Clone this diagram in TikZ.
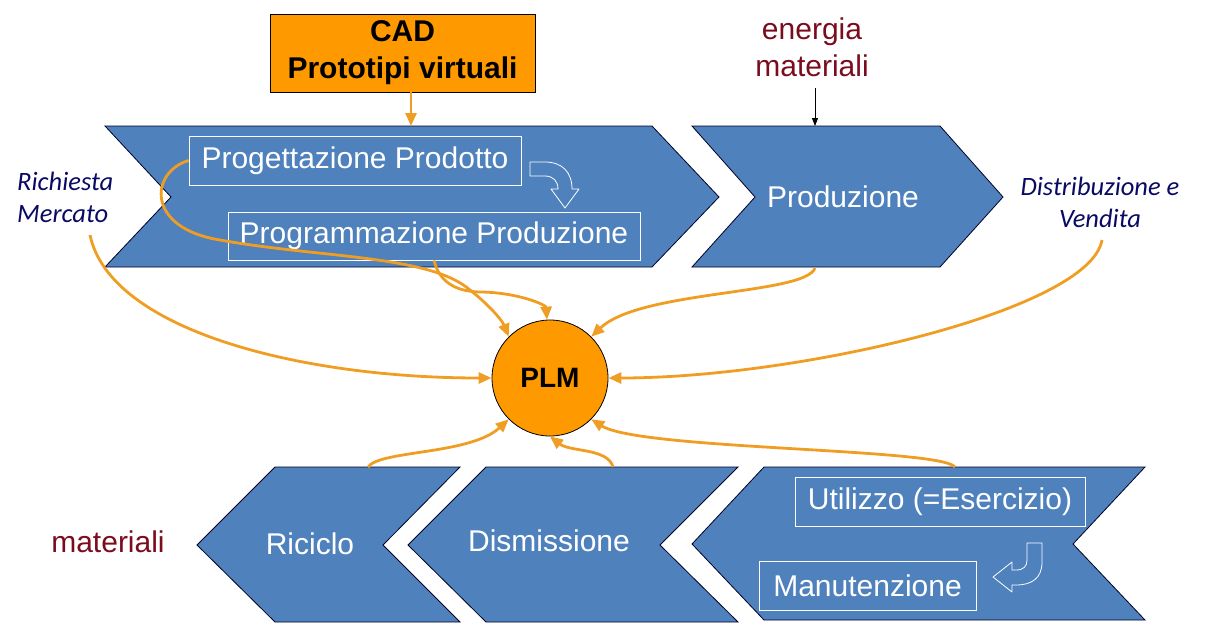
\documentclass[tikz,border=0pt]{standalone}
\usepackage{fontspec}
\setmainfont{Liberation Sans}
\newfontfamily\carlitofont{Carlito}
\usetikzlibrary{arrows.meta}
\definecolor{chev}{RGB}{79,129,189}
\definecolor{plmorange}{RGB}{255,153,0}
\definecolor{connc}{RGB}{240,158,35}
\definecolor{darkredc}{RGB}{122,12,30}
\definecolor{navyc}{RGB}{10,10,100}
\begin{document}
\begin{tikzpicture}[x=1pt,y=-1pt,
  chevron/.style={fill=chev,draw=black!85!blue,line width=0.8pt},
  wtext/.style={text=white,font=\fontsize{30}{34}\selectfont,inner sep=0pt},
  wbox/.style={draw=white,line width=0.8pt,text=white,font=\fontsize{30}{34}\selectfont,inner sep=0pt},
  connector/.style={draw=connc,line width=2.8pt,-{Triangle[length=13pt,width=11pt]}},
  hollow/.style={draw=white,line width=0.8pt,line join=round},
  redlbl/.style={text=darkredc,font=\fontsize{30}{37}\selectfont,align=center,inner sep=0pt},
  navylbl/.style={text=navyc,font=\carlitofont\itshape\fontsize{26.5}{32}\selectfont,align=center,inner sep=0pt}
]
\useasboundingbox (0,0) rectangle (1206,626);
% chevrons
\draw[chevron] (105,126) -- (652,126) -- (719,197) -- (652,267) -- (105,267) -- (171,197) -- cycle;
\draw[chevron] (692,126) -- (940,126) -- (1003,197) -- (940,267) -- (692,267) -- (755,197) -- cycle;
\draw[chevron] (197,545) -- (275,467) -- (460,467) -- (383,545) -- (460,622) -- (275,622) -- cycle;
\draw[chevron] (408,545) -- (486,467) -- (738,467) -- (660,545) -- (738,622) -- (486,622) -- cycle;
\draw[chevron] (692,544) -- (764,467) -- (1145,467) -- (1073,544) -- (1145,620) -- (764,620) -- cycle;
% coordinates on chevrons
\coordinate (ch1t) at (411,126);
\coordinate (prodb) at (815,268);
\coordinate (ch2t) at (815,126);
\coordinate (rict) at (368,467);
\coordinate (dist) at (613,467);
\coordinate (utit) at (955,467);
% text boxes
\node[wbox,minimum width=332pt,minimum height=49pt] (pp) at (355,160.5) {Progettazione Prodotto};
\node[wbox,minimum width=412pt,minimum height=48pt] (pz) at (434,236) {Programmazione Produzione};
\node[wbox,minimum width=290pt,minimum height=49pt] (ut) at (940,501.5) {Utilizzo (=Esercizio)};
\node[wbox,minimum width=217pt,minimum height=49pt] (ma) at (867.5,585.5) {Manutenzione};
\node[wtext] (prod) at (843,197) {Produzione};
\node[wtext] (ric) at (310,544) {Riciclo};
\node[wtext] (dism) at (549,541) {Dismissione};
% hollow arrows
\draw[hollow] (530,162) -- (545,162) .. controls (562,162) and (572,172) .. (572,189) -- (579,189) -- (565,208) -- (551,189) -- (558,189) .. controls (558,181) and (553,176) .. (545,176) -- (530,176) -- cycle;
\draw[hollow] (1042,543) -- (1042,562) .. controls (1042,578) and (1032,585) .. (1016,585) -- (1012,585) -- (1012,592) -- (993,577) -- (1012,562) -- (1012,570) -- (1016,570) .. controls (1024,570) and (1027,566) .. (1027,560) -- (1027,543) -- cycle;
% CAD box
\node[fill=plmorange,draw=black,line width=0.8pt,minimum width=265pt,minimum height=78pt,align=center,inner sep=0pt,font=\bfseries\fontsize{30}{37}\selectfont] (cad) at (402.5,53) {CAD\\Prototipi virtuali};
% labels
\node[redlbl] (en) at (812,47) {energia\\materiali};
\node[redlbl] (mat) at (108,542) {materiali};
\node[navylbl,align=left,anchor=west] (rm) at (17,197) {Richiesta\\Mercato};
\node[navylbl] (dv) at (1100,202) {Distribuzione e\\Vendita};
\coordinate (rmb) at (90,235);
\coordinate (dvb) at (1102,240);
\coordinate (enb) at (815,88);
% PLM
\node[circle,fill=plmorange,draw=black,line width=0.8pt,minimum size=116pt,inner sep=0pt,font=\bfseries\fontsize{28}{32}\selectfont] (plm) at (550,378) {PLM};
% connectors
\draw[connector] (cad.south -| ch1t) -- (ch1t);
\draw[black,line width=0.8pt,-{Triangle[length=8pt,width=6pt]}] (enb) -- (ch2t);
\draw[connector] (rmb) .. controls (110,330) and (300,378) .. (plm.west);
\draw[connector] (pp.west) .. controls (150,172) and (145,228) .. (220,240) .. controls (320,258) and (430,255) .. (470,290) .. controls (488,304) and (502,320) .. (plm.135);
\draw[connector] (pz.south) .. controls (440,285) and (460,292) .. (482,292) .. controls (520,293) and (546,305) .. (plm.93);
\draw[connector] (prodb) .. controls (805,295) and (640,290) .. (plm.45);
\draw[connector] (dvb) .. controls (1090,310) and (800,378) .. (plm.east);
\draw[connector] (rict) .. controls (380,450) and (470,455) .. (plm.225);
\draw[connector] (dist) .. controls (608,448) and (570,452) .. (plm.270);
\draw[connector] (utit) .. controls (940,448) and (640,450) .. (plm.-45);
\end{tikzpicture}
\end{document}
